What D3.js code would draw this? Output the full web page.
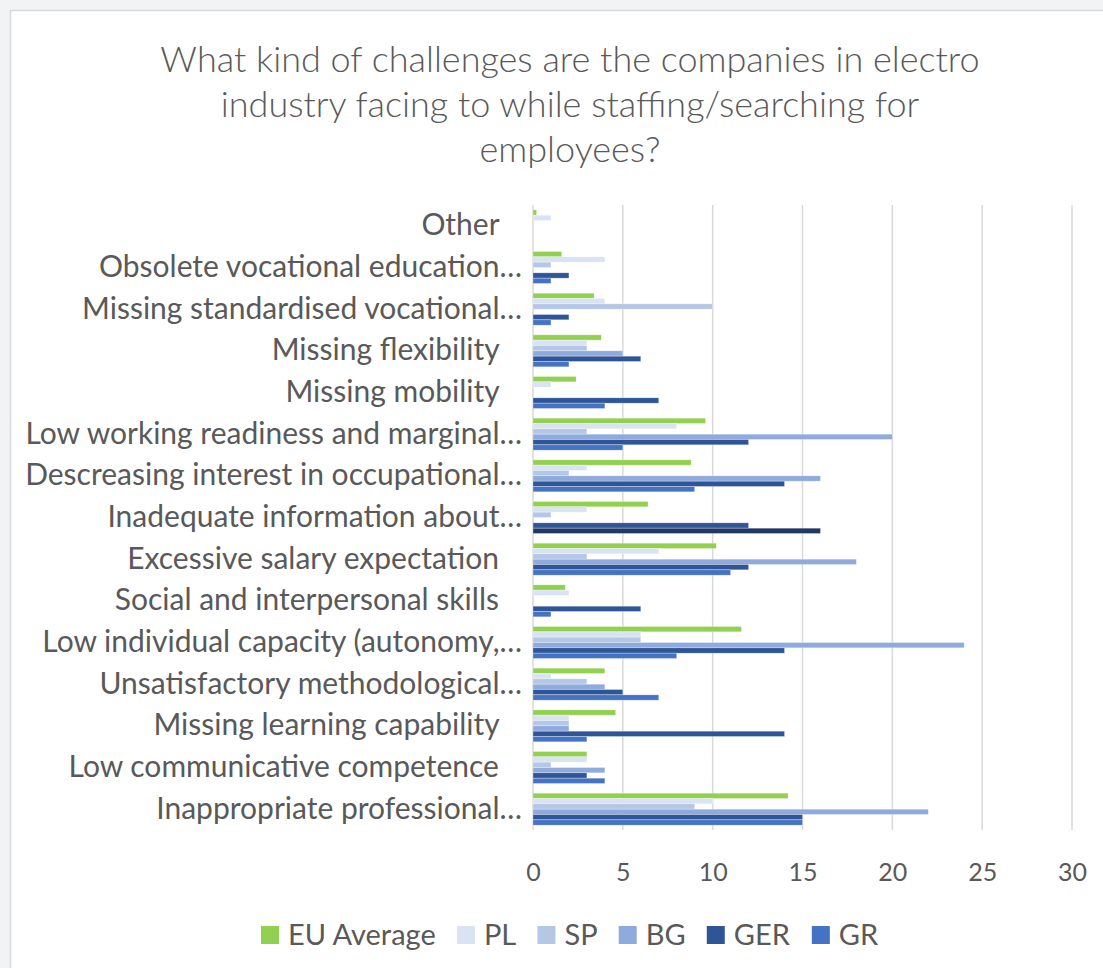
<!DOCTYPE html>
<html>
<head>
<meta charset="utf-8">
<script src="https://cdn.jsdelivr.net/npm/d3@7"></script>
<style>
  html, body { margin: 0; padding: 0; background: #f2f3f4; }
  svg { display: block; }
  text { font-family: Lato, "Open Sans", sans-serif; fill: #595959; }
</style>
</head>
<body>
<svg id="chart" width="1103" height="968"></svg>
<script>
// ---- data ----
const categories = [
  "Other   ",
  "Obsolete vocational education…",
  "Missing standardised vocational…",
  "Missing flexibility   ",
  "Missing mobility   ",
  "Low working readiness and marginal…",
  "Descreasing interest in occupational…",
  "Inadequate information about…",
  "Excessive salary expectation   ",
  "Social and interpersonal skills   ",
  "Low individual capacity (autonomy,…",
  "Unsatisfactory methodological…",
  "Missing learning capability   ",
  "Low communicative competence   ",
  "Inappropriate professional…"
];
const seriesNames = ["EU Average", "PL", "SP", "BG", "GER", "GR"];
const euAverage = [0.2, 1.6, 3.4, 3.8, 2.4, 9.6, 8.8, 6.4, 10.2, 1.8, 11.6, 4, 4.6, 3, 14.2];
const pl        = [1, 4, 4, 3, 1, 8, 3, 3, 7, 2, 6, 1, 2, 3, 10];
const sp        = [0, 1, 10, 3, 0, 3, 2, 1, 3, 0, 6, 3, 2, 1, 9];
const bg        = [0, 0, 0, 5, 0, 20, 16, 0, 18, 0, 24, 4, 2, 4, 22];
const ger       = [0, 2, 2, 6, 7, 12, 14, 12, 12, 6, 14, 5, 14, 3, 15];
const gr        = [0, 1, 1, 2, 4, 5, 9, 16, 11, 1, 8, 7, 3, 4, 15];
const seriesValues = [euAverage, pl, sp, bg, ger, gr];
const xTicks = [0, 5, 10, 15, 20, 25, 30];
const titleLines = [
  "What kind of challenges are the companies in electro",
  "industry facing to while staffing/searching for",
  "employees?"
];

// ---- styles ----
const colors = ["#92d050", "#dae3f3", "#b4c7e7", "#8faadc", "#2f5597", "#4472c4"];
const highlight = { category: "Inadequate information about…", series: "GR", color: "#203864" };

const svg = d3.select("#chart");

// chart frame
svg.append("rect")
  .attr("x", 10.5).attr("y", 10.5)
  .attr("width", 1200).attr("height", 1000)
  .attr("fill", "#ffffff").attr("stroke", "#d9d9d9").attr("stroke-width", 1.5);

// title
svg.append("g").selectAll("text").data(titleLines).join("text")
  .attr("x", 570).attr("y", (d, i) => 72 + i * 45)
  .attr("text-anchor", "middle")
  .style("font-size", "36px")
  .style("font-weight", 300)
  .text(d => d);

const x = d3.scaleLinear().domain([0, 30]).range([533, 1072]);
const y = d3.scaleBand().domain(categories).range([205, 830]).paddingInner(0.232).paddingOuter(0.116);
const ys = d3.scaleBand().domain(seriesNames).range([0, y.bandwidth()]);

// grid lines
svg.append("g").selectAll("line").data(xTicks).join("line")
  .attr("x1", d => x(d)).attr("x2", d => x(d))
  .attr("y1", 205).attr("y2", 830)
  .attr("stroke", "#d9d9d9").attr("stroke-width", 1.5);

// x axis tick labels
const xAxis = d3.axisBottom(x).tickValues(xTicks).tickSize(0).tickPadding(0);
const gx = svg.append("g").attr("transform", "translate(0,863)").call(xAxis);
gx.select(".domain").remove();
gx.selectAll("text").style("font-size", "25px").style("font-family", "Lato, sans-serif")
  .attr("fill", "#595959").attr("dy", "0.35em").attr("y", 9);

// y axis labels
const yAxis = d3.axisLeft(y).tickSize(0).tickPadding(0);
const gy = svg.append("g").attr("transform", "translate(522,0)").call(yAxis);
gy.select(".domain").remove();
gy.selectAll("text").style("font-size", "30px").style("font-family", "Lato, sans-serif")
  .style("white-space", "pre").attr("fill", "#595959");

// bars
const groups = svg.append("g").selectAll("g").data(categories).join("g")
  .attr("transform", d => `translate(0,${y(d)})`);
groups.selectAll("rect")
  .data((c, ci) => seriesNames.map((s, si) => ({ c, s, si, v: seriesValues[si][ci] })))
  .join("rect")
  .attr("x", x(0))
  .attr("y", d => ys(d.s))
  .attr("width", d => x(d.v) - x(0))
  .attr("height", ys.bandwidth())
  .attr("fill", d => (d.c === highlight.category && d.s === highlight.series) ? highlight.color : colors[d.si])
  .attr("stroke", "#ffffff").attr("stroke-opacity", 0.5).attr("stroke-width", 0.6);

// legend
const legend = svg.append("g").attr("transform", "translate(0,935)");
const items = legend.selectAll("g").data(seriesNames).join("g");
items.append("rect").attr("x", 0).attr("y", -9).attr("width", 18).attr("height", 18)
  .attr("fill", (d, i) => colors[i]);
items.append("text").attr("x", 27).attr("dy", "0.35em")
  .style("font-size", "29px").text(d => d);
const widths = [];
items.each(function () { widths.push(this.getBBox().width); });
const legendLeft = 261, legendRight = 879;
const gap = (legendRight - legendLeft - d3.sum(widths)) / (widths.length - 1);
let cx = legendLeft;
items.attr("transform", (d, i) => { const t = `translate(${cx},0)`; cx += widths[i] + gap; return t; });
</script>
</body>
</html>
